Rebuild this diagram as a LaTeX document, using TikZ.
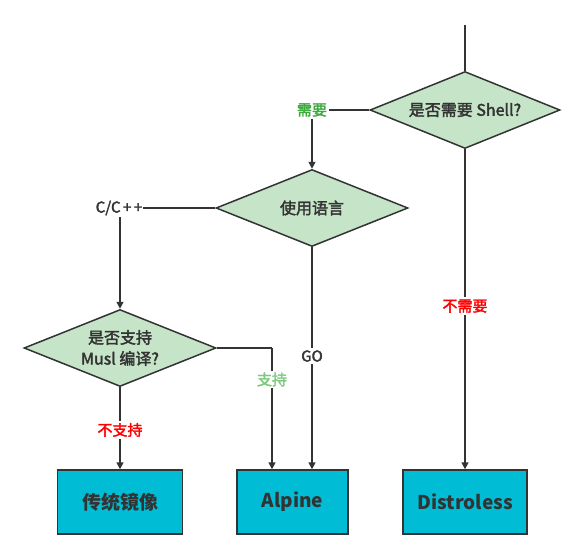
\documentclass[tikz,border=0pt]{standalone}
\usepackage{fontspec}
\newfontfamily\cjk{Noto Sans CJK SC}
\newfontfamily\cjkmed[FakeBold=2.2]{Noto Sans CJK SC}
\usepackage{tikz}
\usetikzlibrary{arrows.meta, shapes.geometric}
\definecolor{askgreen}{HTML}{C6E5C8}
\definecolor{imgcyan}{HTML}{00BCD4}
\definecolor{inkgray}{HTML}{333333}
\definecolor{yesgreen}{HTML}{3DAA3D}
\definecolor{oklight}{HTML}{7CC87C}
\tikzset{
  flow line/.style={
    >={Triangle[length=7pt, width=7pt]},  % arrow tip style
    line width=1.5pt,                     % default line thickness
    draw=inkgray,
  }
}
\tikzset{
  askbox/.style={
    diamond, draw=inkgray, line width=1.5pt, fill=askgreen, text=inkgray,
    aspect=2.5, inner sep=0pt, minimum width=192pt, minimum height=77pt,
    font=\cjkmed\fontsize{16pt}{21pt}\selectfont, align=center
  }
}
\tikzset{
  imgbox/.style={
    rectangle, draw=inkgray, line width=1.5pt, fill=imgcyan, text=inkgray,
    minimum width=125pt, minimum height=64pt,
    font=\cjk\bfseries\fontsize{19pt}{22pt}\selectfont
  }
}
\tikzset{
  lbl/.style={
    fill=white, inner sep=2pt,
    font=\cjkmed\fontsize{15pt}{18pt}\selectfont
  }
}

\begin{document}
\begin{tikzpicture}[x=1pt, y=-1pt]
    \useasboundingbox (0,0) rectangle (585,559);

    % Questions
    \node[askbox, minimum width=190pt] (shell) at (465,110) {是否需要 Shell?};
    \node[askbox] (lang) at (312,208) {使用语言};
    \node[askbox] (musl) at (120,348) {是否支持\\Musl 编译?};

    % Images
    \node[imgbox] (trad) at (120,502) {传统镜像};
    \node[imgbox, minimum width=111pt] (alpine) at (292.5,502) {Alpine};
    \node[imgbox, minimum width=124pt] (distro) at (465,502) {Distroless};

    % Corner labels
    \node[lbl, text=yesgreen] (need) at (312,110) {需要};
    \node[lbl, text=inkgray, inner xsep=1pt] (cpp) at (119,208) {C/C{\kern2.5pt}+{\kern2.5pt}+};
    \coordinate (start) at (465,25);
    \coordinate (okturn) at (272,348);

    % Connectors
    \draw[flow line] (start) -- (shell.north);
    \draw[flow line] (shell.west) -- (need.east);
    \draw[flow line, ->] (need.south) -- (lang.north);
    \draw[flow line] (lang.west) -- (cpp.east);
    \draw[flow line, ->] (cpp.south -| musl.north) -- (musl.north);
    \draw[flow line] (musl.east) -- (okturn);
    \draw[flow line, ->] (okturn) -- node[lbl, text=oklight, pos=0.26] (ok) {支持} (okturn |- alpine.north);
    \draw[flow line, ->] (musl.south) -- node[lbl, text=red, pos=0.52] (notok) {不支持} (trad.north);
    \draw[flow line, ->] (lang.south) -- node[lbl, text=inkgray, pos=0.49] (go) {GO} (lang.south |- alpine.north);
    \draw[flow line, ->] (shell.south) -- node[lbl, text=red, pos=0.49] (noneed) {不需要} (distro.north);
\end{tikzpicture}
\end{document}
